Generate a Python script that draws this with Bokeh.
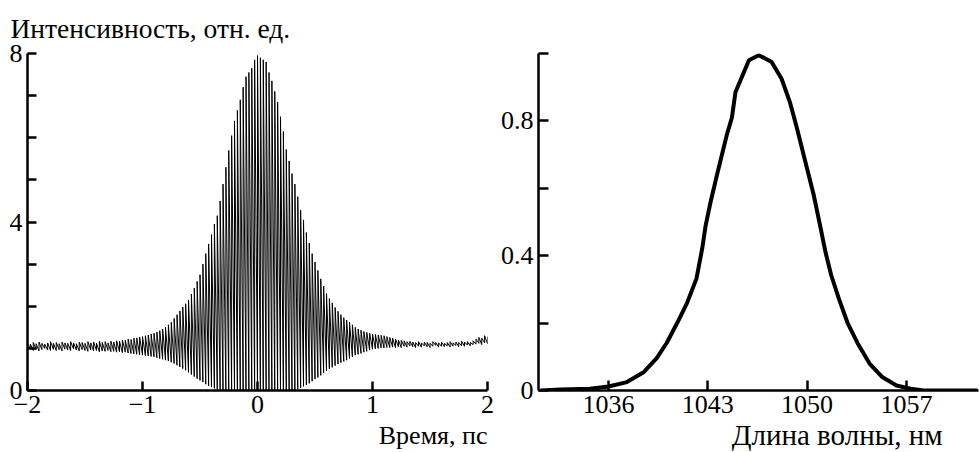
import numpy as np
from bokeh.plotting import figure
from bokeh.models import FixedTicker, Range1d, Title
from bokeh.layouts import row
from bokeh.embed import file_html
from bokeh.resources import INLINE

# ---------------- data: interferometric autocorrelation (envelopes) -------------
time_start_ps = -2.0
time_step_ps = 0.025
# upper envelope of the fringes, t = -2.0 ... 2.0 step 0.025 ps
upper_env = [
    1.12, 1.10, 1.14, 1.11, 1.15, 1.12, 1.10, 1.13, 1.16, 1.12, 1.14, 1.11, 1.15, 1.13, 1.12, 1.16,
    1.13, 1.11, 1.15, 1.14, 1.12, 1.16, 1.13, 1.15, 1.12, 1.17, 1.14, 1.16, 1.13, 1.17, 1.15, 1.18,
    1.17, 1.20, 1.19, 1.22, 1.21, 1.24, 1.25, 1.27,
    1.28, 1.30, 1.32, 1.34, 1.36, 1.39, 1.42, 1.46, 1.50, 1.56, 1.62, 1.71, 1.80, 1.89, 1.98, 2.06,
    2.15, 2.29, 2.43, 2.59,
    2.75, 3.00, 3.25, 3.48, 3.70, 3.95, 4.15, 4.50, 4.90, 5.30, 5.70, 6.05, 6.40, 6.65, 6.90, 7.20,
    7.45, 7.55, 7.65, 7.85,
    7.95,
    7.90, 7.85, 7.80, 7.55, 7.35, 7.10, 6.85, 6.50, 6.15, 5.72, 5.45, 5.15, 4.90, 4.60, 4.28, 4.05,
    3.75, 3.50, 3.25, 3.05,
    2.85, 2.65, 2.48, 2.30, 2.18, 2.08, 1.97, 1.88, 1.80, 1.73, 1.67, 1.62, 1.56, 1.50, 1.46, 1.43,
    1.40, 1.38, 1.36, 1.34,
    1.33, 1.32, 1.31, 1.30, 1.28, 1.26, 1.24, 1.22,
    1.20, 1.19, 1.18, 1.16, 1.17, 1.15, 1.14, 1.16, 1.13, 1.15, 1.14, 1.12, 1.16, 1.14, 1.13, 1.15,
    1.12, 1.14, 1.16, 1.13, 1.15, 1.14, 1.17, 1.15, 1.16, 1.14, 1.18, 1.22, 1.26, 1.24, 1.30, 1.28,
]
# lower envelope of the fringes, same time grid
lower_env = [
    0.96, 0.99, 0.95, 0.98, 0.94, 0.97, 1.00, 0.96, 0.95, 0.98, 0.95, 0.97, 0.94, 0.98, 0.96, 0.95,
    0.99, 0.96, 0.94, 0.97, 0.95, 0.93, 0.96, 0.94, 0.95, 0.92, 0.94, 0.93, 0.95, 0.92, 0.93, 0.91,
    0.92, 0.90, 0.91, 0.89, 0.88, 0.87, 0.86, 0.85,
    0.84, 0.83, 0.82, 0.81, 0.80, 0.78, 0.76, 0.74, 0.72, 0.70, 0.67, 0.64, 0.60, 0.56, 0.52, 0.48,
    0.43, 0.38, 0.33, 0.28,
    0.24, 0.20, 0.15, 0.11, 0.08, 0.05, 0.03, 0.02, 0.01, 0.00, 0.00, 0.00, 0.00, 0.00, 0.00, 0.00,
    0.00, 0.00, 0.00, 0.00,
    0.00,
    0.00, 0.00, 0.00, 0.00, 0.00, 0.00, 0.00, 0.00, 0.00, 0.00, 0.00, 0.00, 0.01, 0.03, 0.06, 0.10,
    0.13, 0.17, 0.22, 0.27,
    0.31, 0.36, 0.42, 0.47, 0.51, 0.55, 0.59, 0.63, 0.66, 0.69, 0.72, 0.76, 0.80, 0.84, 0.86, 0.88,
    0.91, 0.93, 0.96, 0.98,
    0.99, 1.00, 1.01, 1.01, 1.02, 1.02, 1.03, 1.02,
    1.04, 1.02, 1.05, 1.03, 1.06, 1.04, 1.02, 1.05, 1.03, 1.06, 1.04, 1.02, 1.05, 1.07, 1.03, 1.05,
    1.04, 1.06, 1.03, 1.05, 1.07, 1.04, 1.06, 1.05, 1.08, 1.06, 1.09, 1.10, 1.12, 1.09, 1.13, 1.11,
]
time_ps = np.round(time_start_ps + time_step_ps * np.arange(len(upper_env)), 4)

time_ticks = [-2, -1, 0, 1, 2]
time_tick_labels = {-2: "\u22122", -1: "\u22121", 0: "0", 1: "1", 2: "2"}
intens_major_ticks = [0, 4, 8]
intens_minor_ticks = [1, 2, 3, 5, 6, 7]

# ---------------- data: spectrum ----------------
wavelength_nm = [1031.2, 1032.6, 1034.7, 1036.0, 1037.3, 1038.5, 1039.4, 1040.1, 1040.85, 1041.55,
                 1042.2, 1042.6, 1042.85, 1043.2, 1043.65, 1044.0, 1044.35, 1044.7, 1044.95, 1045.2,
                 1045.9, 1046.6, 1047.5, 1048.2, 1048.8, 1049.25, 1049.85, 1050.45, 1050.9, 1051.3,
                 1051.7, 1052.25, 1052.85, 1053.55, 1054.4, 1055.3, 1056.3, 1057.3, 1058.2, 1060.0,
                 1062.0]
spectrum = [0.0, 0.003, 0.005, 0.012, 0.025, 0.055, 0.096, 0.141, 0.201, 0.261,
            0.332, 0.42, 0.49, 0.56, 0.64, 0.70, 0.76, 0.81, 0.885, 0.91,
            0.98, 0.995, 0.975, 0.925, 0.854, 0.784, 0.683, 0.583, 0.493, 0.41,
            0.342, 0.271, 0.201, 0.141, 0.080, 0.040, 0.015, 0.005, 0.0, 0.0,
            0.0]
wl_ticks = [1036, 1043, 1050, 1057]
spec_major_ticks = [0, 0.4, 0.8]
spec_minor_ticks = [0.2, 0.6, 1.0]
spec_tick_labels = {0: "0", 0.4: "0.4", 0.8: "0.8"}

FONT = "Liberation Serif"
FS = "26px"
TOP = 51
BOTTOM = 62


def style(p, tick_len):
    p.outline_line_color = None
    p.xgrid.visible = False
    p.ygrid.visible = False
    p.background_fill_color = "white"
    p.border_fill_color = "white"
    for ax in (p.xaxis[0], p.yaxis[0]):
        ax.axis_line_width = 2.5
        ax.axis_line_color = "black"
        ax.major_tick_in = tick_len
        ax.major_tick_out = 0
        ax.minor_tick_in = tick_len
        ax.minor_tick_out = 0
        ax.major_tick_line_width = 2.5
        ax.minor_tick_line_width = 2.5
        ax.major_tick_line_color = "black"
        ax.minor_tick_line_color = "black"
        ax.major_label_text_font = FONT
        ax.major_label_text_font_size = FS
        ax.major_label_text_color = "black"
        ax.major_label_standoff = 5


def text_title(text, align, offset, standoff, size=FS):
    return Title(text=text, align=align, offset=offset, standoff=standoff,
                 text_font=FONT, text_font_size=size, text_font_style="normal",
                 text_color="black")


# ---------------- left panel ----------------
p1 = figure(width=495, height=452, x_range=Range1d(-2, 2), y_range=Range1d(0, 8),
            output_backend="svg", toolbar_location=None,
            min_border_left=27, min_border_right=8, min_border_top=TOP, min_border_bottom=BOTTOM)
style(p1, 9)
p1.xaxis[0].ticker = FixedTicker(ticks=time_ticks, minor_ticks=[])
p1.xaxis[0].major_label_overrides = time_tick_labels
p1.yaxis[0].ticker = FixedTicker(ticks=intens_major_ticks, minor_ticks=intens_minor_ticks)

fx, fy = [], []
for t, lo, hi in zip(time_ps, lower_env, upper_env):
    fx += [t, t]
    fy += [lo, hi]
p1.line(fx, fy, line_color="black", line_width=1.0)

p1.add_layout(text_title("Интенсивность, отн. ед.", "left", -17, 20, "27.5px"), "above")
p1.add_layout(text_title("Время, пс", "right", 0, 6), "below")

# ---------------- right panel ----------------
px_per_nm = 99.3 / 7.0
wl_start = 1036 - 70 / px_per_nm
wl_end = wl_start + 440 / px_per_nm
p2 = figure(width=484, height=452, x_range=Range1d(wl_start, wl_end), y_range=Range1d(0, 1.0),
            output_backend="svg", toolbar_location=None,
            min_border_left=43, min_border_right=1, min_border_top=TOP, min_border_bottom=BOTTOM)
style(p2, 10)
p2.xaxis[0].ticker = FixedTicker(ticks=wl_ticks, minor_ticks=[])
p2.yaxis[0].ticker = FixedTicker(ticks=spec_major_ticks, minor_ticks=spec_minor_ticks)
p2.yaxis[0].major_label_overrides = spec_tick_labels
p2.line(wavelength_nm, spectrum, line_color="black", line_width=4, line_join="round")

p2.add_layout(text_title("Длина волны, нм", "right", 36, 3, "29px"), "below")

layout = row(p1, p2)
open("out.html", "w").write(file_html(layout, INLINE))
